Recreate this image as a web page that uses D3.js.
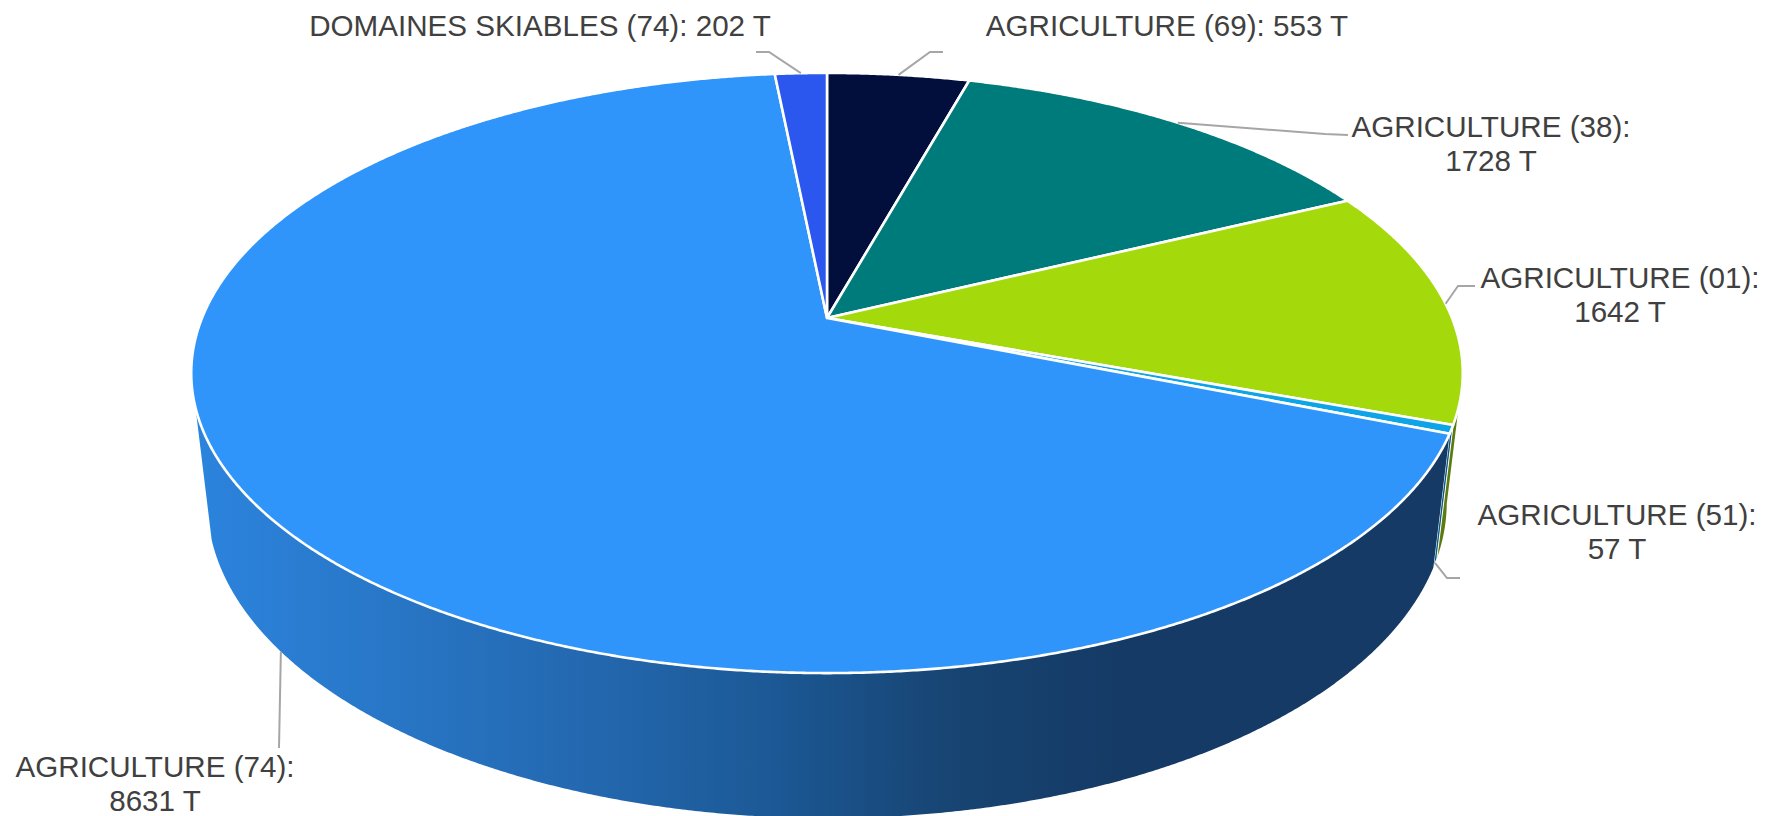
<!DOCTYPE html>
<html><head><meta charset="utf-8">
<script src="https://cdn.jsdelivr.net/npm/d3@7/dist/d3.min.js"></script>
<style>html,body{margin:0;background:#fff;overflow:hidden}svg{display:block}text{font-family:"Liberation Sans",Arial,sans-serif;fill:#404040}</style>
</head><body>
<svg id="c" width="1766" height="816"></svg>
<script>
// data
const names = ["AGRICULTURE (69)","AGRICULTURE (38)","AGRICULTURE (01)","AGRICULTURE (51)","AGRICULTURE (74)","DOMAINES SKIABLES (74)"];
const tonnes = [553,1728,1642,57,8631,202];
const unit = "T";
// styles
const topColors = ["#020f3c","#007b7b","#a4da0c","#0ea4e8","#3095fb","#2b57ee"];
const wallColors = ["#01071e","#003d3d","#5c7a10","#0b5c84","url(#wallBlue)","#152b77"];
// label layout
const labelLayout = [
 {x:1167,y:36,lines:1,end:[943,52],elbow:[930,52],rim:"top"},
 {x:1491,y:137,lines:2,end:[1348,135],elbow:[1325,134],rim:"top"},
 {x:1620,y:288,lines:2,end:[1475,286],elbow:[1458,286],rim:"top"},
 {x:1617,y:525,lines:2,end:[1460,578],elbow:[1447,578],rim:"bottom"},
 {x:155,y:777,lines:2,end:[279,748],elbow:null,rim:"bottom"},
 {x:540,y:36,lines:1,end:[756,52],elbow:[769,52],rim:"top"}
];
// projection of a cylinder seen in perspective
const ax=827, ay=318, A=625, B=290, D=131, k=0.1833, m=0.025;
function proj(theta,z){
  const u=Math.sin(theta), v=Math.cos(theta), w=1+k*v+m*z;
  return [ax+A*u/w, ay-(B*v-D*z)/w];
}
const svg=d3.select("#c");
const defs=svg.append("defs");
const grad=defs.append("linearGradient").attr("id","wallBlue").attr("gradientUnits","userSpaceOnUse")
  .attr("x1",190).attr("x2",1120).attr("y1",0).attr("y2",0);
[[0,"#2c84de"],[0.22,"#2876c6"],[0.44,"#2367ae"],[0.62,"#1c5996"],[0.82,"#174472"],[1,"#153a66"]]
  .forEach(s=>grad.append("stop").attr("offset",s[0]).attr("stop-color",s[1]));

const arcs=d3.pie().sort(null).value(d=>d).startAngle(0).endAngle(2*Math.PI)(tonnes);
const line=d3.line();
const step=Math.PI/720;
const sample=(a,b)=>{const n=Math.max(2,Math.ceil((b-a)/step));return d3.range(n+1).map(i=>a+(b-a)*i/n);};

// walls
const visA=Math.acos(-k), visB=253*Math.PI/180;
const wallG=svg.append("g");
arcs.forEach((d,i)=>{
  const a=Math.max(d.startAngle,visA), b=Math.min(d.endAngle,visB);
  if(b<=a) return;
  const ths=sample(a,b);
  const pts=ths.map(t=>proj(t,0)).concat(ths.slice().reverse().map(t=>proj(t,1)));
  wallG.append("path").attr("d",line(pts)+"Z").attr("fill",wallColors[i])
    .attr("stroke",tonnes[i]<100?"#fff":"none").attr("stroke-width",1);
});
// top face
const faceG=svg.append("g");
arcs.forEach((d,i)=>{
  const pts=[[ax,ay]].concat(sample(d.startAngle,d.endAngle).map(t=>proj(t,0)));
  faceG.append("path").attr("d",line(pts)+"Z").attr("fill",topColors[i])
    .attr("stroke","#fff").attr("stroke-width",2.6).attr("stroke-linejoin","round");
});
// leaders
const leadG=svg.append("g").attr("fill","none").attr("stroke","#a6a6a6").attr("stroke-width",2);
arcs.forEach((d,i)=>{
  const L=labelLayout[i], mid=(d.startAngle+d.endAngle)/2;
  const p=proj(mid,L.rim==="top"?0:1);
  const pts=[p]; if(L.elbow) pts.push(L.elbow); pts.push(L.end);
  leadG.append("path").attr("d",line(pts));
});
// labels
const labG=svg.append("g").attr("font-size",29.6).attr("text-anchor","middle");
arcs.forEach((d,i)=>{
  const L=labelLayout[i], val=tonnes[i]+" "+unit;
  if(L.lines===1){
    labG.append("text").attr("x",L.x).attr("y",L.y).text(names[i]+": "+val);
  } else {
    labG.append("text").attr("x",L.x).attr("y",L.y).text(names[i]+":");
    labG.append("text").attr("x",L.x).attr("y",L.y+34).text(val);
  }
});
</script>
</body></html>
